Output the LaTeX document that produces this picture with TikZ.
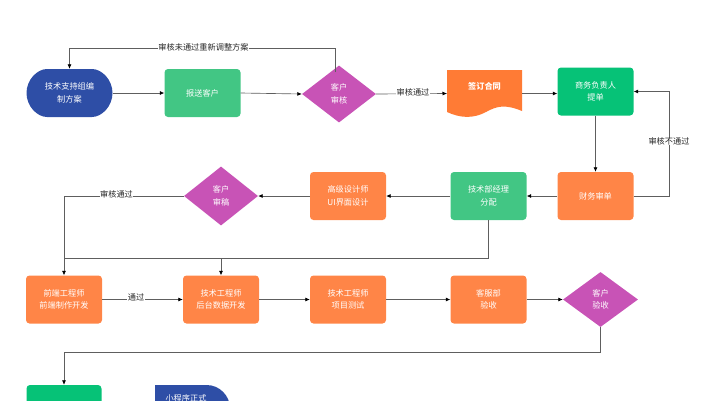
\documentclass[tikz,border=0pt]{standalone}
\usepackage{fontspec}
\setmainfont{Noto Sans CJK SC}
\usetikzlibrary{arrows.meta,shapes.geometric,shapes.misc}
\definecolor{pillblue}{HTML}{2E4EA6}
\definecolor{softgreen}{HTML}{42C684}
\definecolor{deepgreen}{HTML}{06C277}
\definecolor{softorange}{HTML}{FF8547}
\definecolor{sharporange}{HTML}{FF7B35}
\definecolor{custpurple}{HTML}{C853B6}
\definecolor{linegray}{HTML}{5E5E5E}
\tikzset{
  box/.style={rectangle,rounded corners=3.5pt,minimum width=76pt,minimum height=48pt,inner sep=0pt,
    text=white,align=center,font=\fontsize{8.2}{12.6}\selectfont},
  orangebox/.style={box,fill=softorange},
  greenbox/.style={box,fill=softgreen},
  custbox/.style={diamond,fill=custpurple,minimum width=74pt,minimum height=57pt,inner sep=0pt,
    text=white,align=center,font=\fontsize{8.2}{12.6}\selectfont},
  flow/.style={draw=linegray,line width=0.65pt,-{Latex[length=4.5pt,width=4pt,color=black]}},
  plainflow/.style={draw=linegray,line width=0.65pt},
  linelabel/.style={fill=white,inner xsep=0.5pt,inner ysep=0pt,text=black!85,font=\fontsize{8.2}{10}\selectfont}
}
\begin{document}
\begin{tikzpicture}[x=1pt,y=-1pt]
\useasboundingbox (0,0) rectangle (707,400);
\fill[sharporange] (447,70) -- (522,70) -- (522,111) .. controls (505,104) and (497,106) .. (486,112) .. controls (473,119) and (460,118) .. (447,112) -- cycle;
\node[box,rounded rectangle,fill=pillblue,minimum width=86pt] (plan) at (69.5,93) {技术支持组编\\制方案};
\node[greenbox] (send) at (202.5,93) {报送客户};
\node[custbox] (check) at (339,94) {客户\\审核};
\coordinate (sign) at (522,93.5);
\coordinate (signin) at (447,93.5);
\node[text=white,font=\fontsize{8.2}{10}\bfseries\selectfont] (signtext) at (484.5,86) {签订合同};
\node[box,fill=deepgreen] (sales) at (595.5,91.5) {商务负责人\\提单};
\node[orangebox] (finance) at (595.5,196) {财务审单};
\node[greenbox] (manager) at (488.5,196) {技术部经理\\分配};
\node[orangebox] (design) at (348,196) {高级设计师\\UI界面设计};
\node[custbox,minimum height=59pt] (review) at (221,196) {客户\\审稿};
\node[orangebox] (front) at (64,299.5) {前端工程师\\前端制作开发};
\node[orangebox] (back) at (221,299.5) {技术工程师\\后台数据开发};
\node[orangebox] (test) at (348,299.5) {技术工程师\\项目测试};
\node[orangebox] (service) at (488.5,299.5) {客服部\\验收};
\node[custbox,minimum width=75pt,minimum height=55pt] (accept) at (600.5,299.5) {客户\\验收};
\node[box,fill=deepgreen,minimum width=75pt] (upload) at (64,409) {};
\node[rounded rectangle,rounded rectangle west arc=none,fill=pillblue,minimum width=75pt,minimum height=47pt,inner sep=0pt] (live) at (192.5,408.5) {};
\node[text=white,font=\fontsize{8.2}{10}\selectfont] (livetext) at (186,398) {小程序正式};
\coordinate (checkup) at (335.5,72);
\coordinate (checktop) at (335.5,48);
\coordinate (plantop) at (69.5,48);
\draw[flow] (checkup) -- (checktop) -- (plantop) -- (plan.north);
\draw[flow] (plan.east) -- (send.west);
\draw[flow] (send.east) -- (check.west);
\draw[flow] (check.east) -- (signin);
\draw[flow] (sign) -- (sales.west |- sign);
\draw[flow] (sales.south) -- (finance.north);
\coordinate (finright) at (669,196);
\coordinate (salesright) at (669,91.5);
\draw[flow] (finance.east) -- (finright) -- (salesright) -- (sales.east);
\draw[flow] (finance.west) -- (manager.east);
\draw[flow] (manager.west) -- (design.east);
\draw[flow] (design.west) -- (review.east);
\coordinate (leftturn) at (64,196);
\draw[flow] (review.west) -- (leftturn) -- (front.north);
\coordinate (midturn) at (488.5,258);
\coordinate (backturn) at (221,258);
\coordinate (frontturn) at (64,258);
\draw[plainflow] (manager.south) -- (midturn) -- (frontturn);
\draw[flow] (backturn) -- (back.north);
\draw[flow] (front.east) -- (back.west);
\draw[flow] (back.east) -- (test.west);
\draw[flow] (test.east) -- (service.west);
\draw[flow] (service.east) -- (accept.west);
\coordinate (acceptturn) at (600.5,352);
\coordinate (uploadturn) at (64,352);
\draw[flow] (accept.south) -- (acceptturn) -- (uploadturn) -- (upload.north);
\node[linelabel] (lab1) at (203.5,47) {审核未通过重新调整方案};
\node[linelabel] (lab2) at (413,92) {审核通过};
\node[linelabel] (lab3) at (669,141.5) {审核不通过};
\node[linelabel] (lab4) at (116.5,194) {审核通过};
\node[linelabel] (lab5) at (136,297.5) {通过};
\end{tikzpicture}
\end{document}
